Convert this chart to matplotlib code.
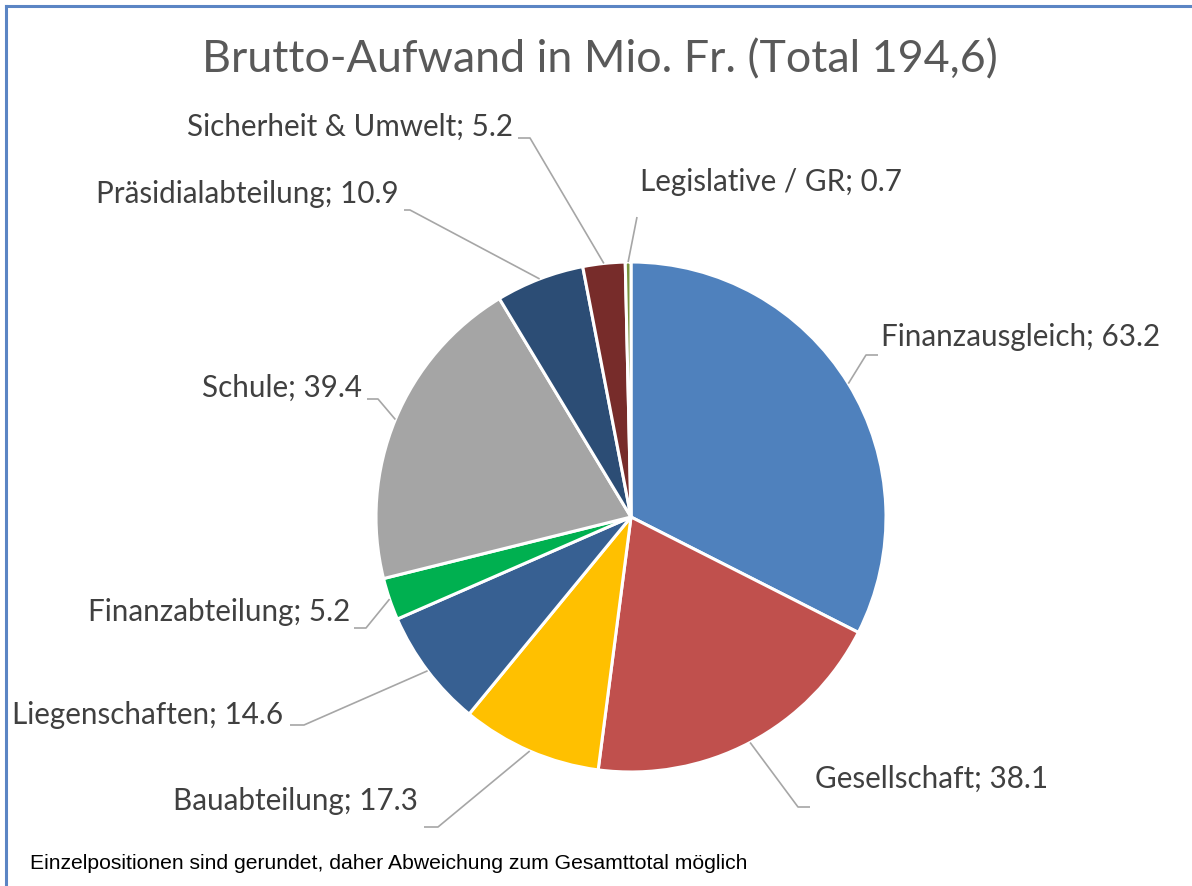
import matplotlib.pyplot as plt
from matplotlib.lines import Line2D
import numpy as np

# data
labels = ["Finanzausgleich", "Gesellschaft", "Bauabteilung", "Liegenschaften",
          "Finanzabteilung", "Schule", "Präsidialabteilung",
          "Sicherheit & Umwelt", "Legislative / GR"]
values = [63.2, 38.1, 17.3, 14.6, 5.2, 39.4, 10.9, 5.2, 0.7]
colors = ["#4F81BD", "#C0504D", "#FFC000", "#376092", "#00B050",
          "#A5A5A5", "#2C4D75", "#772C2A", "#77933C"]

# layout (pixel coords, y measured from top of image)
W, H = 1192, 887
cx, cy, rad = 631, 518, 255
# text anchor x, text y, alignment, elbow point, end of horizontal
label_pos = [
    (881, 337, "left", (866, 356), 878),
    (815, 779, "left", (798, 808), 810),
    (418, 801, "right", (438, 828), 424),
    (283, 715, "right", (304, 726), 290),
    (350, 612, "right", (366, 629), 354),
    (362, 388, "right", (378, 400), 367),
    (399, 194, "right", (410, 211), 404),
    (513, 127, "right", (530, 139), 518),
    (640, 182, "left", (637, 218), None),
]

plt.rcParams['font.family'] = ['Lato', 'DejaVu Sans']

fig = plt.figure(figsize=(W / 100, H / 100), dpi=100)
ax = fig.add_axes([0, 0, 1, 1])

wedges, _ = ax.pie(values, colors=colors, startangle=90, counterclock=False,
                   center=(cx, H - cy), radius=rad,
                   wedgeprops=dict(edgecolor="white", linewidth=2.2))
ax.set_xlim(0, W)
ax.set_ylim(0, H)
ax.axis("off")

for w, lab, val, (tx, ty, ha, elbow, hend) in zip(wedges, labels, values, label_pos):
    ang = np.deg2rad((w.theta1 + w.theta2) / 2)
    sx = w.center[0] + rad * np.cos(ang)
    sy = w.center[1] + rad * np.sin(ang)
    xs = [sx, elbow[0]]
    ys = [sy, H - elbow[1]]
    if hend is not None:
        xs.append(hend)
        ys.append(H - elbow[1])
    ax.plot(xs, ys, color="#A6A6A6", lw=1.2, solid_capstyle="butt")
    ax.text(tx, H - ty, f"{lab}; {val}", ha=ha, va="center",
            fontsize=21.3, color="#404040")

ax.text(600, H - 60, "Brutto-Aufwand in Mio. Fr. (Total 194,6)", ha="center",
        va="center", fontsize=32.3, color="#595959")

ax.text(30, H - 864, "Einzelpositionen sind gerundet, daher Abweichung zum Gesamttotal möglich",
        ha="left", va="center", fontsize=15.2, color="black", family="Liberation Sans")

# frame around the chart
ax.add_line(Line2D([6, W], [H - 7, H - 7], color="#5B85C4", lw=2.2))
ax.add_line(Line2D([6, 6], [H - 7, 0], color="#5B85C4", lw=2.2))

fig.savefig("out.png", dpi=100)
